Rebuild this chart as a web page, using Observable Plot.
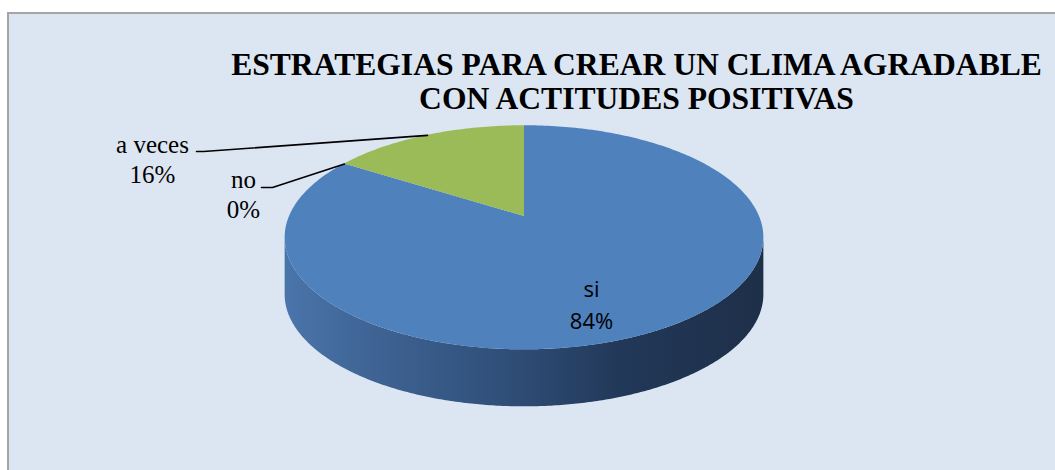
<!DOCTYPE html>
<html><head><meta charset="utf-8">
<script src="https://cdn.jsdelivr.net/npm/d3@7"></script>
<script src="https://cdn.jsdelivr.net/npm/@observablehq/plot@0.6"></script>
<style>
html,body{margin:0;padding:0;background:#fff;}
#wrap{position:relative;width:1055px;height:470px;overflow:hidden;}
#frame{position:absolute;left:7px;top:12px;width:1100px;height:520px;background:#dce6f2;border-left:2px solid #a5a5a5;border-top:2px solid #a5a5a5;box-sizing:border-box;}
#chart{position:absolute;left:0;top:0;}
</style></head><body>
<div id="wrap"><div id="frame"></div><div id="chart"></div></div>
<script>
// ---- data ----
const categories = ["si", "no", "a veces"];
const values = [84, 0, 16];
const percentLabels = ["84%", "0%", "16%"];
const titleLines = ["ESTRATEGIAS PARA CREAR UN CLIMA AGRADABLE", "CON ACTITUDES POSITIVAS"];
const colors = ["#4f81bd", "#c0504d", "#9bbb59"];

// ---- layout ----
const W = 1055, HGT = 470;
const CX = 524, CY = 216, A = 235, B = 108, P = 0.19, DEPTH = 57;
const SERIF = '"Liberation Serif", serif';
const SANS = '"Open Sans", "Noto Sans", sans-serif';
function proj(t) { const u = Math.sin(t), v = Math.cos(t), d = 1 + P * v; return [CX + A * u / d, CY - B * v / d]; }
const outsideLayout = {
  "a veces": {tx: 152, ty: 152, lx: 196, ly: 151, ex: 203},
  "no": {tx: 243, ty: 187, lx: 261, ly: 187, ex: 272}
};
const insideLayout = {"si": {tx: 591, ty: 296}};
const LINE_GAP = 31;

const total = d3.sum(values);
let acc = 0;
const slices = categories.map((c, i) => {
  const t0 = acc / total * 2 * Math.PI; acc += values[i];
  const t1 = acc / total * 2 * Math.PI;
  return {cat: c, value: values[i], pct: percentLabels[i], t0, t1, tm: (t0 + t1) / 2};
});

// top face wedges
const wedgeRows = [];
for (const s of slices) {
  if (s.value <= 0) continue;
  const n = Math.max(2, Math.ceil((s.t1 - s.t0) / (2 * Math.PI) * 360));
  for (let k = 0; k <= n; k++) {
    const t = s.t0 + (s.t1 - s.t0) * k / n;
    const [x, y] = proj(t);
    wedgeRows.push({cat: s.cat, x, y, cx: CX, cy: CY});
  }
}
// front side (silhouette from left extreme to right extreme)
const tR = Math.atan2(Math.sqrt(1 - P * P), -P), tL = 2 * Math.PI - tR;
const sideRows = [];
for (const s of slices) {
  if (s.value <= 0) continue;
  const a0 = Math.max(s.t0, tR), a1 = Math.min(s.t1, tL);
  if (a1 <= a0) continue;
  const n = 300;
  for (let k = 0; k <= n; k++) {
    const t = a0 + (a1 - a0) * k / n;
    const [x, y] = proj(t);
    sideRows.push({cat: s.cat, x, y, y2: y + DEPTH});
  }
}
// leader lines + labels
const leaderRows = [];
const textRows = [];
for (const s of slices) {
  const o = outsideLayout[s.cat];
  if (o) {
    const [ax, ay] = proj(s.tm);
    leaderRows.push({cat: s.cat, x: o.lx, y: o.ly}, {cat: s.cat, x: o.ex, y: o.ly}, {cat: s.cat, x: ax, y: ay});
    textRows.push({text: s.cat, x: o.tx, y: o.ty, serif: true}, {text: s.pct, x: o.tx, y: o.ty + LINE_GAP - 1, serif: true});
  }
  const ii = insideLayout[s.cat];
  if (ii) {
    textRows.push({text: s.cat, x: ii.tx, y: ii.ty, serif: false}, {text: s.pct, x: ii.tx, y: ii.ty + 32, serif: false});
  }
}

function gradientDefs() {
  const ns = "http://www.w3.org/2000/svg";
  const defs = document.createElementNS(ns, "defs");
  const g = document.createElementNS(ns, "linearGradient");
  g.setAttribute("id", "sideGrad");
  g.setAttribute("x1", "0"); g.setAttribute("x2", "1"); g.setAttribute("y1", "0"); g.setAttribute("y2", "0");
  [[0, "#4a75ab"], [0.2, "#3e6292"], [0.45, "#30507a"], [0.7, "#223859"], [1, "#1e2f48"]].forEach(([o, c]) => {
    const st = document.createElementNS(ns, "stop");
    st.setAttribute("offset", o); st.setAttribute("stop-color", c);
    g.appendChild(st);
  });
  defs.appendChild(g);
  return defs;
}

const chart = Plot.plot({
  width: W, height: HGT,
  margin: 0,
  x: {domain: [0, W], range: [0, W], axis: null},
  y: {domain: [0, HGT], range: [0, HGT], axis: null},
  color: {domain: categories, range: colors},
  style: {background: "transparent", overflow: "visible"},
  marks: [
    gradientDefs,
    Plot.area(sideRows, {x1: "x", y1: "y", y2: "y2", z: "cat", fill: "url(#sideGrad)", curve: "linear"}),
    Plot.area(wedgeRows, {x1: "cx", y1: "cy", x2: "x", y2: "y", z: "cat", fill: "cat", curve: "linear"}),
    Plot.line(leaderRows, {x: "x", y: "y", z: "cat", stroke: "#000", strokeWidth: 1.6, curve: "linear"}),
    Plot.text(textRows.filter(d => d.serif), {x: "x", y: "y", text: "text", textAnchor: "middle", lineAnchor: "bottom", fontSize: 25, fontFamily: SERIF, fill: "#000"}),
    Plot.text(textRows.filter(d => !d.serif), {x: "x", y: "y", text: "text", textAnchor: "middle", lineAnchor: "bottom", fontSize: 22, fontFamily: SANS, fill: "#000"}),
    Plot.text(titleLines, {x: () => 636, y: (d, i) => 74 + 34 * i, text: d => d, textAnchor: "middle", lineAnchor: "bottom", fontSize: 31.6, fontWeight: "bold", fontFamily: SERIF, fill: "#000"})
  ]
});
document.getElementById("chart").appendChild(chart);
</script>
</body></html>
